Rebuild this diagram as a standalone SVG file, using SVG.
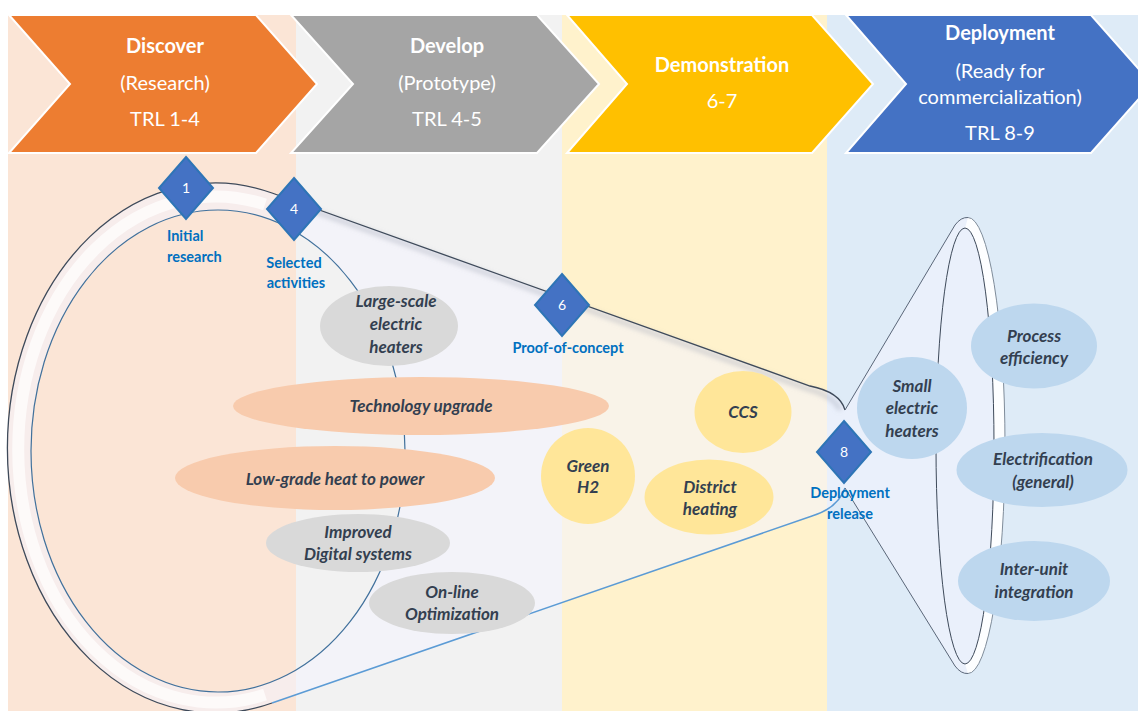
<svg xmlns="http://www.w3.org/2000/svg" width="1138" height="711" viewBox="0 0 1138 711">
<defs>
<style>
.chev{stroke:#ffffff;stroke-width:2;stroke-linejoin:miter}
.ct{font-family:Lato,'Liberation Sans',sans-serif;fill:#ffffff;font-size:20px;text-anchor:middle}
.ctb{font-weight:bold}
.dia{fill:#4472C4;stroke:#2E75B6;stroke-width:2}
.dn{font-family:Lato,'Liberation Sans',sans-serif;fill:#ffffff;font-size:14px;text-anchor:middle}
.lbl{font-family:Lato,'Liberation Sans',sans-serif;font-weight:bold;fill:#0070C0;font-size:14.5px}
.nt{font-family:Lato,'Liberation Sans',sans-serif;font-weight:bold;font-style:italic;fill:#333F50;font-size:17px;text-anchor:middle}
.gray{fill:#D9D9D9}
.org{fill:#F8CBAD}
.yel{fill:#FFE699}
.blu{fill:#BDD7EE}
</style>
<filter id="soft" x="-10%" y="-10%" width="120%" height="120%">
<feGaussianBlur stdDeviation="2.5"/>
</filter>
</defs>
<rect width="1138" height="711" fill="#ffffff"/>
<g id="bands">
<rect x="8" y="15" width="288" height="696" fill="#FBE5D6"/>
<rect x="296" y="15" width="266" height="696" fill="#F2F2F2"/>
<rect x="562" y="15" width="265" height="696" fill="#FFF2CC"/>
<rect x="827" y="15" width="311" height="696" fill="#DEEBF7"/>
</g>
<g id="stage-discover">
<polygon class="chev" fill="#ED7D31" points="9,15 256,15 317,84 256,153 9,153 70,84"/>
<text class="ct ctb" x="165" y="53">Discover</text>
<text class="ct" x="165" y="90">(Research)</text>
<text class="ct" x="165" y="126">TRL 1-4</text>
</g>
<g id="stage-develop">
<polygon class="chev" fill="#A5A5A5" points="291,15 537,15 599,84 537,153 291,153 353,84"/>
<text class="ct ctb" x="447" y="53">Develop</text>
<text class="ct" x="447" y="90">(Prototype)</text>
<text class="ct" x="447" y="126">TRL 4-5</text>
</g>
<g id="stage-demonstration">
<polygon class="chev" fill="#FFC000" points="567,15 812,15 873,84 812,153 567,153 627,84"/>
<text class="ct ctb" x="722" y="72">Demonstration</text>
<text class="ct" x="722" y="108">6-7</text>
</g>
<g id="stage-deployment">
<polygon class="chev" fill="#4472C4" points="846,15 1091,15 1152,84 1091,153 846,153 906,84"/>
<text class="ct ctb" x="1000" y="40">Deployment</text>
<text class="ct" x="1000" y="78">(Ready for</text>
<text class="ct" x="1000" y="104">commercialization)</text>
<text class="ct" x="1000" y="140">TRL 8-9</text>
</g>
<g id="funnel">
<path fill="#F4F4FF" fill-opacity="0.55" fill-rule="evenodd" d="M272,193 A208 265 0 1 0 272,703 L812,516 Q838,508 845,488 L955,666 Q961,674 968,673.5 A37 228 0 0 0 968,217.5 Q961,217 955,225 L845,410 Q840,392 810,386 Z M31,451 A187 241 0 1 0 405,451 A187 241 0 1 0 31,451 Z"/>
<path d="M300,206 L808,389 Q834,396 840,410" fill="none" stroke="#9AA0B0" stroke-width="4" stroke-opacity="0.45" filter="url(#soft)"/>
<path d="M265,204.5 A197.5 253 0 1 0 265,694.5" fill="none" stroke="#ffffff" stroke-width="12" stroke-opacity="0.7"/>
<path d="M272,703 A208 265 0 1 1 272,193 L810,386 Q840,392 845,410" fill="none" stroke="#3E4A5A" stroke-width="1.3"/>
<path d="M272,703 L812,516 Q838,508 845,488" fill="none" stroke="#5B9BD5" stroke-width="1.5"/>
<ellipse cx="218" cy="451" rx="187" ry="241" fill="none" stroke="#41719C" stroke-width="1.2"/>
<path d="M845,410 L955,225 Q961,217 968,217.5 M845,488 L955,666 Q961,674 968,673.5" fill="none" stroke="#5A6678" stroke-width="1"/>
<path d="M968,217.5 A37 228 0 0 1 968,673.5 L965,664 A29 218 0 0 0 965,228 Z" fill="#ffffff" fill-opacity="0.9"/>
<path d="M968,217.5 A37 228 0 0 1 968,673.5" fill="none" stroke="#7F8C9A" stroke-width="1"/>
<ellipse cx="965" cy="446" rx="29" ry="218" fill="none" stroke="#3E4A5A" stroke-width="1"/>
</g>
<g id="node-large-scale">
<ellipse class="gray" cx="389" cy="326" rx="69" ry="40"/>
<text class="nt" x="396" y="307">Large-scale</text>
<text class="nt" x="396" y="330">electric</text>
<text class="nt" x="396" y="353">heaters</text>
</g>
<g id="node-technology-upgrade">
<ellipse class="org" cx="421" cy="406" rx="188" ry="29"/>
<text class="nt" x="421" y="412">Technology upgrade</text>
</g>
<g id="node-low-grade">
<ellipse class="org" cx="335" cy="478" rx="160" ry="32"/>
<text class="nt" x="335" y="485">Low-grade heat to power</text>
</g>
<g id="node-digital">
<ellipse class="gray" cx="358" cy="543" rx="92" ry="29"/>
<text class="nt" x="358" y="538">Improved</text>
<text class="nt" x="358" y="560">Digital systems</text>
</g>
<g id="node-optimization">
<ellipse class="gray" cx="452" cy="603" rx="83" ry="31"/>
<text class="nt" x="452" y="598">On-line</text>
<text class="nt" x="452" y="620">Optimization</text>
</g>
<g id="node-ccs">
<ellipse class="yel" cx="743" cy="412" rx="48.5" ry="41"/>
<text class="nt" x="743" y="418">CCS</text>
</g>
<g id="node-green-h2">
<ellipse class="yel" cx="588" cy="476" rx="47" ry="48"/>
<text class="nt" x="588" y="472">Green</text>
<text class="nt" x="588" y="493">H2</text>
</g>
<g id="node-district-heating">
<ellipse class="yel" cx="709" cy="497" rx="64.5" ry="37.5"/>
<text class="nt" x="710" y="493">District</text>
<text class="nt" x="710" y="515">heating</text>
</g>
<g id="node-small-heaters">
<ellipse class="blu" cx="912" cy="408" rx="55" ry="51"/>
<text class="nt" x="912" y="392">Small</text>
<text class="nt" x="912" y="414">electric</text>
<text class="nt" x="912" y="437">heaters</text>
</g>
<g id="node-process-efficiency">
<ellipse class="blu" cx="1034" cy="346" rx="63" ry="42.5"/>
<text class="nt" x="1034" y="342">Process</text>
<text class="nt" x="1034" y="364">efficiency</text>
</g>
<g id="node-electrification">
<ellipse class="blu" cx="1042" cy="470" rx="85.5" ry="37"/>
<text class="nt" x="1043" y="465">Electrification</text>
<text class="nt" x="1043" y="488">(general)</text>
</g>
<g id="node-inter-unit">
<ellipse class="blu" cx="1034" cy="581" rx="76" ry="40"/>
<text class="nt" x="1034" y="575">Inter-unit</text>
<text class="nt" x="1034" y="598">integration</text>
</g>
<g id="milestone-1">
<polygon class="dia" points="186,157 213,188 186,219 159,188"/>
<text class="dn" x="186" y="193">1</text>
<text class="lbl" x="167" y="241">Initial</text>
<text class="lbl" x="167" y="262">research</text>
</g>
<g id="milestone-4">
<polygon class="dia" points="294,178 321,209 294,240 267,209"/>
<text class="dn" x="294" y="214">4</text>
<text class="lbl" x="294" y="268" text-anchor="middle">Selected</text>
<text class="lbl" x="296" y="288" text-anchor="middle">activities</text>
</g>
<g id="milestone-6">
<polygon class="dia" points="562,274 589,305 562,336 535,305"/>
<text class="dn" x="562" y="310">6</text>
<text class="lbl" x="568" y="353" text-anchor="middle">Proof-of-concept</text>
</g>
<g id="milestone-8">
<polygon class="dia" points="844,421 871,452 844,483 817,452"/>
<text class="dn" x="844" y="457">8</text>
<text class="lbl" x="850" y="498" text-anchor="middle">Deployment</text>
<text class="lbl" x="850" y="519" text-anchor="middle">release</text>
</g>
</svg>
